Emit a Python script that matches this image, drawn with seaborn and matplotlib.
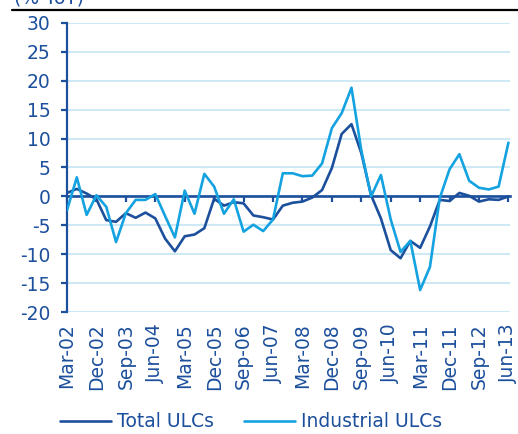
import numpy as np
import pandas as pd
import matplotlib
matplotlib.use("Agg")
import matplotlib.pyplot as plt
import seaborn as sns

# quarterly data, Mar-02 .. Jun-13 (% YoY)
quarters = pd.period_range("2002Q1", "2013Q2", freq="Q")
total_ulc = [0.6, 1.3, 0.5, -0.5, -4.1, -4.4, -2.9, -3.7, -2.8, -3.8,
             -7.3, -9.5, -6.9, -6.6, -5.5, -0.4, -1.6, -1.0, -1.2, -3.3,
             -3.6, -4.0, -1.6, -1.1, -0.9, -0.2, 1.1, 4.9, 10.8, 12.5,
             7.5, 0.2, -3.8, -9.3, -10.7, -7.7, -8.9, -5.2, -0.6, -0.8,
             0.6, 0.1, -0.9, -0.5, -0.6, 0.0]
industrial_ulc = [-2.4, 3.3, -3.2, 0.2, -1.8, -7.9, -2.9, -0.6, -0.6, 0.4,
                  -3.4, -7.1, 1.0, -3.0, 3.9, 1.7, -3.0, -0.5, -6.1, -4.9,
                  -6.0, -4.0, 4.0, 4.0, 3.5, 3.6, 5.7, 11.8, 14.4, 18.8,
                  8.0, 0.0, 3.7, -4.0, -9.6, -7.7, -16.2, -12.2, -0.3, 4.7,
                  7.3, 2.7, 1.5, 1.2, 1.7, 9.3]
series_names = ["Total ULCs", "Industrial ULCs"]
tick_labels = [q.strftime("%b-%y") for q in quarters][::3]

dark = "#1c4f9c"
light = "#14a2e0"
grid_col = "#c4e5f5"

df = pd.DataFrame({
    "t": np.tile(np.arange(len(quarters)), 2),
    "value": total_ulc + industrial_ulc,
    "series": np.repeat(series_names, len(quarters)),
})

sns.set_style("white")
plt.rcParams["font.family"] = ["DejaVu Sans"]
plt.rcParams["font.size"] = 13.5
plt.rcParams["axes.unicode_minus"] = False

fig = plt.figure(figsize=(5.18, 4.34), dpi=100)
ax = fig.add_axes([67 / 518, 1 - 312 / 434, (510 - 67) / 518, 289 / 434])

sns.lineplot(data=df, x="t", y="value", hue="series", hue_order=series_names,
             palette=[dark, light], linewidth=1.9, ax=ax, legend=False, zorder=3)

ax.set_xlim(0, 45.16)
ax.set_ylim(-20, 30)
ax.set_yticks(np.arange(-20, 31, 5))
ax.yaxis.grid(True, color=grid_col, linewidth=1.2)
ax.set_axisbelow(True)
ax.set_xlabel("")
ax.set_ylabel("")

for s in ["top", "right"]:
    ax.spines[s].set_visible(False)
ax.spines["left"].set_color(dark)
ax.spines["left"].set_linewidth(1.6)
ax.spines["bottom"].set_position(("data", 0))
ax.spines["bottom"].set_color(dark)
ax.spines["bottom"].set_linewidth(1.9)
ax.spines["bottom"].set_zorder(2)

ax.set_xticks(np.arange(0, len(quarters), 3))
ax.tick_params(axis="x", bottom=True, direction="out", length=4, width=1.6,
               color=dark, labelbottom=False)
ax.tick_params(axis="y", left=True, direction="out", length=4, width=1.6,
               color=dark, labelcolor=dark, pad=8)

# date labels sit at the bottom of the plot
sec = ax.secondary_xaxis("bottom")
sec.set_xticks(np.arange(0, len(quarters), 3))
sec.set_xticklabels(tick_labels, rotation=90, color=dark)
sec.tick_params(length=0, pad=8)
sec.spines["bottom"].set_visible(False)

handles = ax.get_lines()[:2]
fig.legend(handles, series_names, loc="center", bbox_to_anchor=(0.485, 0.028),
           ncol=2, frameon=False, handlelength=2.7, handletextpad=0.35,
           columnspacing=1.6, labelcolor=dark, fontsize=13.5)

# header rule and (cut-off) unit label
fig.add_artist(plt.Line2D([12 / 518, 1.0], [1 - 9.5 / 434] * 2,
                          color="black", linewidth=1.6))
fig.text(14 / 518, 1 - 3 / 434, "(% YoY)", color=dark, fontsize=13.5,
         va="baseline", ha="left")

fig.savefig("out.png", dpi=100)
